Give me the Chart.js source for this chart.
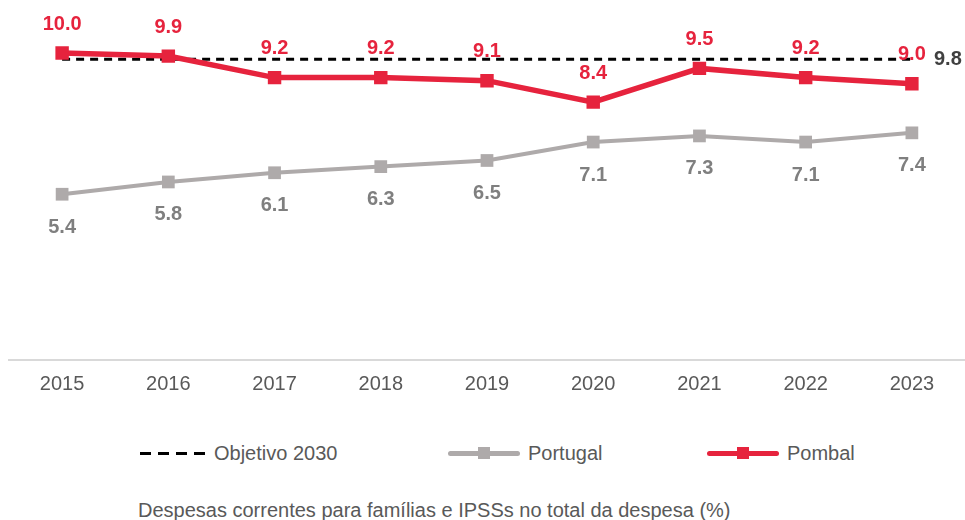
<!DOCTYPE html>
<html>
<head>
<meta charset="utf-8">
<script src="https://cdn.jsdelivr.net/npm/chart.js@4"></script>
<style>
    body { margin: 0; background: #fff; font-family: "Liberation Sans", Arial, sans-serif; }
    #wrap { position: relative; width: 965px; height: 520px; }
    #chart { position: absolute; left: 0; top: 0; }
    .item { position: absolute; top: 441px; height: 24px; display: flex; align-items: center; font-size: 20px; color: #595959; }
    .sample { position: relative; margin-right: 8px; }
    .dash { width: 66px; height: 3px; background: repeating-linear-gradient(to right, #000 0 11px, transparent 11px 18px); }
    .solid { width: 72px; height: 5px; border-radius: 3px; }
    .solid span { position: absolute; left: 30px; top: -3.5px; width: 12px; height: 12px; }
    #caption { position: absolute; left: 138px; top: 499px; font-size: 20px; color: #595959; white-space: nowrap; }
</style>
</head>
<body>
<div id="wrap">
    <canvas id="chart" width="965" height="422"></canvas>
    <div class="item" style="left:140px"><div class="sample dash"></div>Objetivo 2030</div>
    <div class="item" style="left:448px"><div class="sample solid" style="background:#aeaaaa"><span style="background:#aeaaaa"></span></div>Portugal</div>
    <div class="item" style="left:707px"><div class="sample solid" style="background:#e6233d"><span style="background:#e6233d"></span></div>Pombal</div>
    <div id="caption">Despesas correntes para famílias e IPSSs no total da despesa (%)</div>
</div>

<script>
// =========================
// DATA
// =========================

const years = ["2015", "2016", "2017", "2018", "2019", "2020", "2021", "2022", "2023"];
const pombal = [10.0, 9.9, 9.2, 9.2, 9.1, 8.4, 9.5, 9.2, 9.0];
const portugal = [5.4, 5.8, 6.1, 6.3, 6.5, 7.1, 7.3, 7.1, 7.4];
const objetivo = 9.8;

const RED = "#e6233d";
const GREY = "#aeaaaa";

// =========================
// VALUE LABELS
// =========================

const valueLabels = {
    id: "valueLabels",
    afterDatasetsDraw(chart) {
        const ctx = chart.ctx;
        ctx.save();
        ctx.font = 'bold 20px "Liberation Sans", Arial, sans-serif';
        ctx.textAlign = "center";
        ctx.textBaseline = "middle";

        chart.data.datasets.forEach((ds, i) => {
            if (!ds.labelOffset) return;
            ctx.fillStyle = ds.labelColor;
            chart.getDatasetMeta(i).data.forEach((pt, j) => {
                ctx.fillText(ds.data[j].toFixed(1), pt.x, pt.y + ds.labelOffset);
            });
        });

        // target value at the end of the dashed line
        const pts = chart.getDatasetMeta(2).data;
        const last = pts[pts.length - 1];
        ctx.fillStyle = "#404040";
        ctx.fillText(objetivo.toFixed(1), last.x + 36, last.y);
        ctx.restore();
    }
};

// =========================
// CHART
// =========================

new Chart(document.getElementById("chart"), {
    type: "line",
    data: {
        labels: years,
        datasets: [
            {
                label: "Pombal",
                data: pombal,
                borderColor: RED,
                backgroundColor: RED,
                borderWidth: 5.5,
                pointStyle: "rect",
                pointRadius: 9.5,
                pointBorderWidth: 0,
                labelOffset: -29,
                labelColor: RED
            },
            {
                label: "Portugal",
                data: portugal,
                borderColor: GREY,
                backgroundColor: GREY,
                borderWidth: 4,
                pointStyle: "rect",
                pointRadius: 9,
                pointBorderWidth: 0,
                labelOffset: 33,
                labelColor: "#7f7f7f"
            },
            {
                label: "Objetivo 2030",
                data: years.map(() => objetivo),
                borderColor: "#000",
                borderWidth: 3,
                borderDash: [8, 6],
                pointRadius: 0
            }
        ]
    },
    options: {
        responsive: false,
        animation: false,
        layout: { autoPadding: false, padding: { left: 9, right: 0, top: 7, bottom: 14 } },
        plugins: {
            legend: { display: false },
            tooltip: { enabled: false }
        },
        scales: {
            x: {
                offset: true,
                grid: { display: false, drawTicks: false },
                border: { display: true, color: "#d9d9d9", width: 2 },
                ticks: {
                    color: "#595959",
                    padding: 12,
                    font: { family: '"Liberation Sans", Arial, sans-serif', size: 20 }
                }
            },
            y: {
                display: false,
                min: 0,
                max: 11.5
            }
        }
    },
    plugins: [valueLabels]
});
</script>
</body>
</html>
